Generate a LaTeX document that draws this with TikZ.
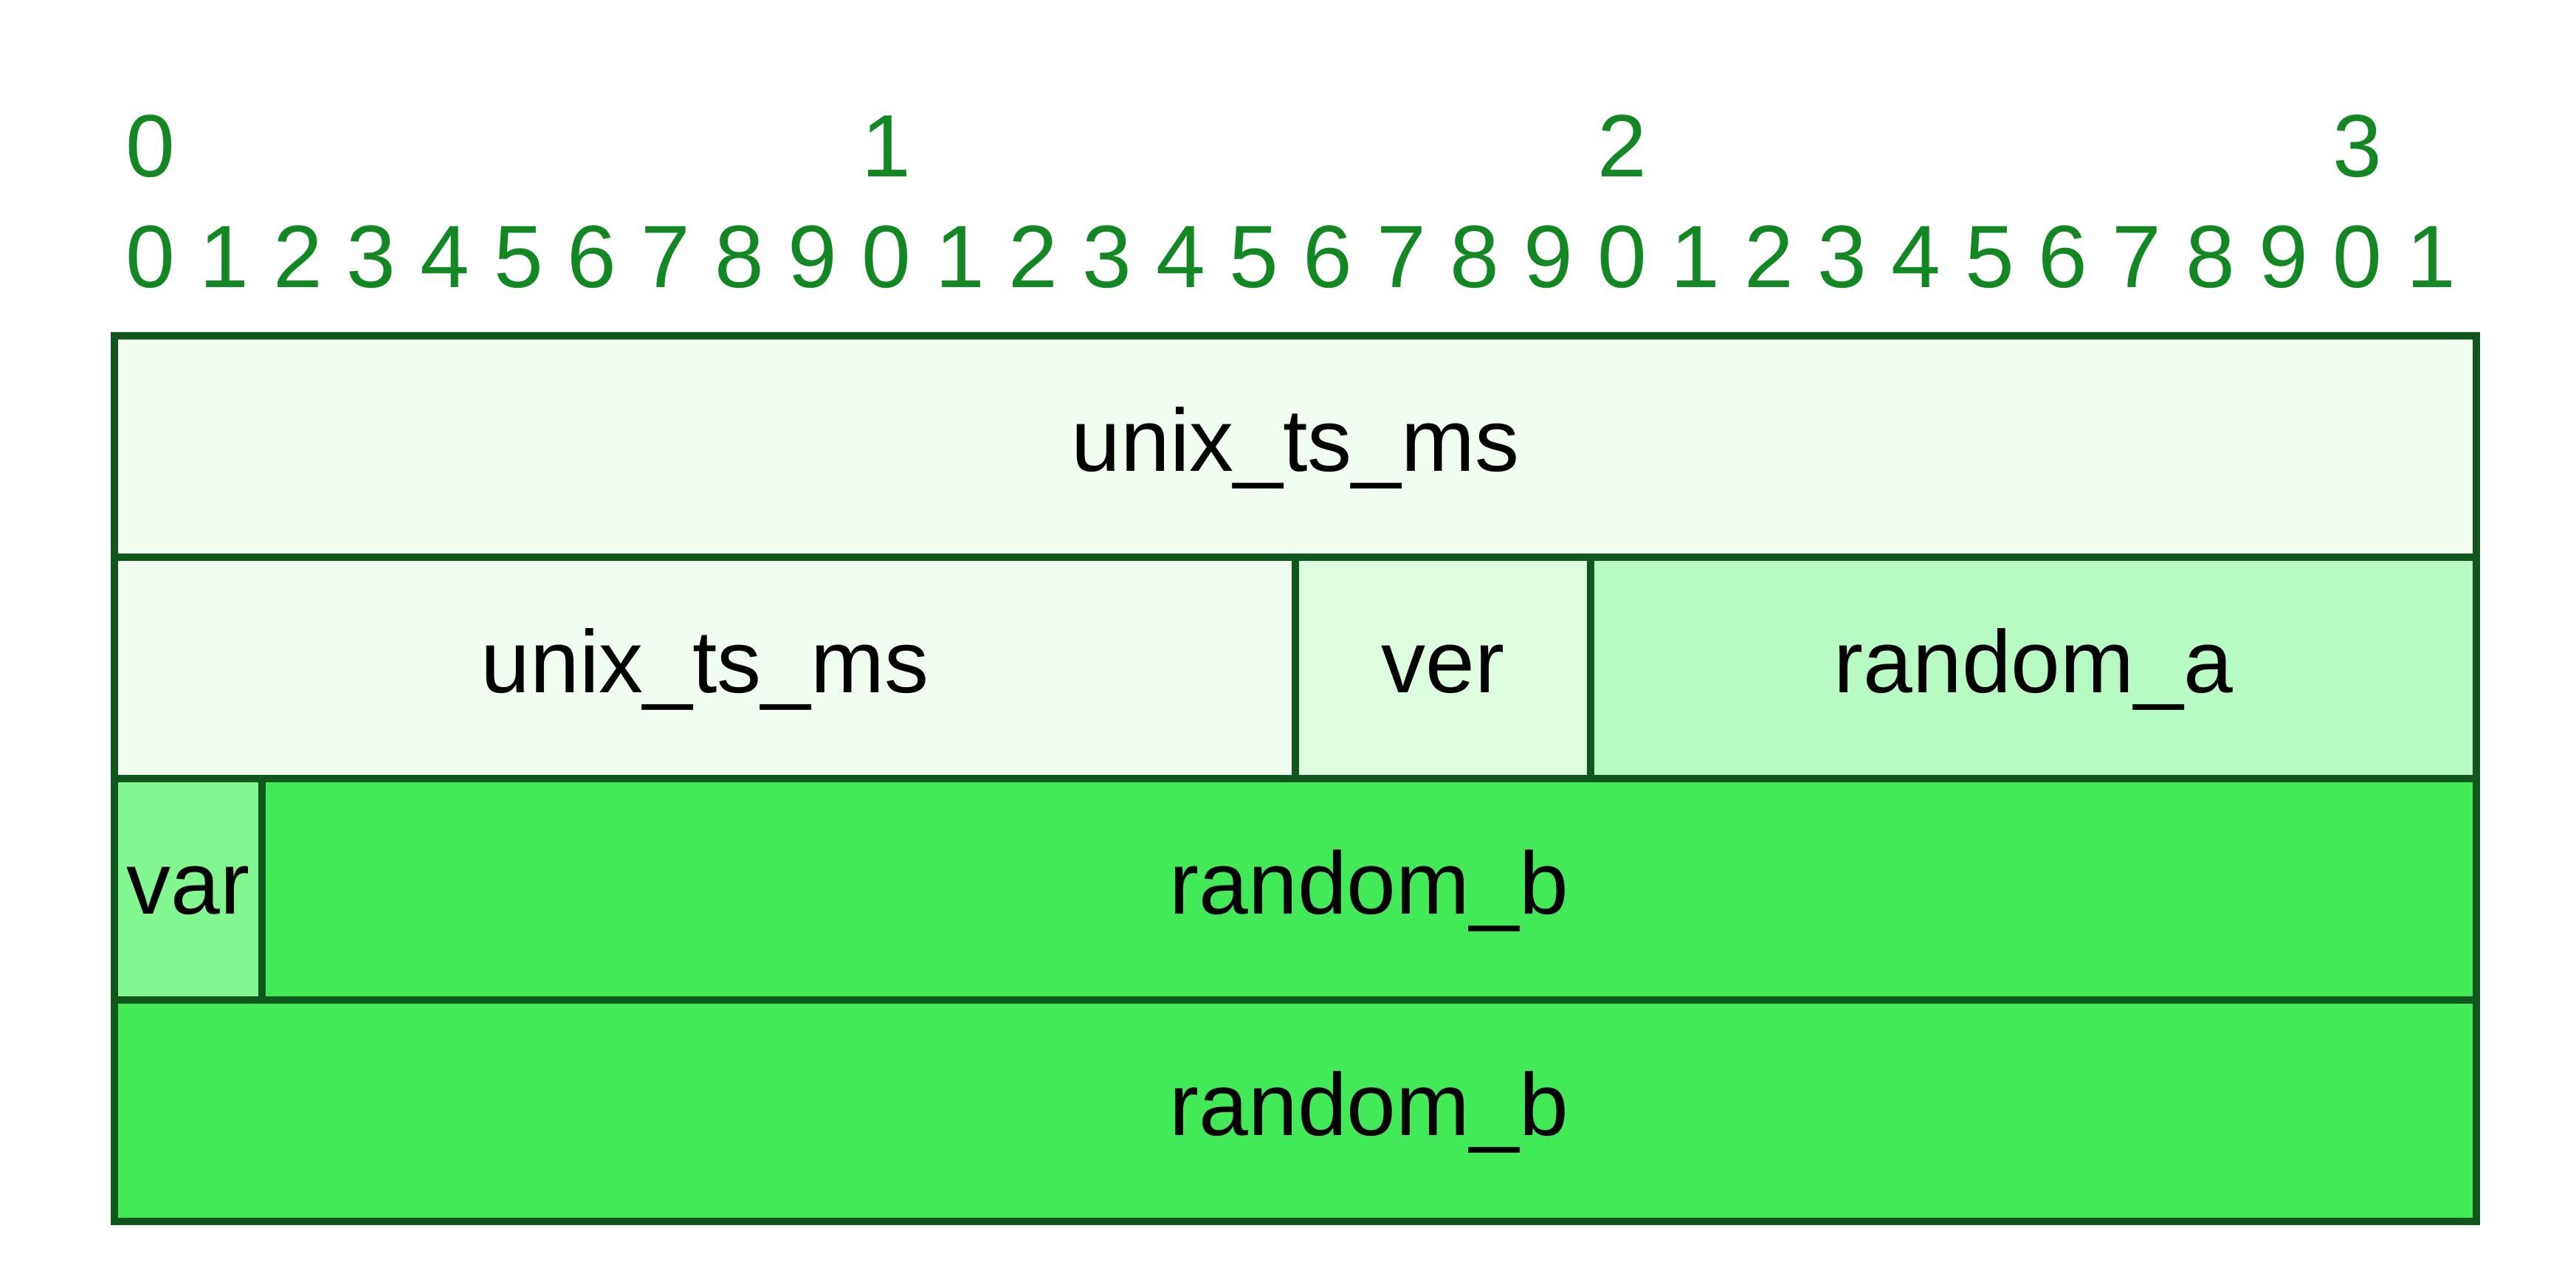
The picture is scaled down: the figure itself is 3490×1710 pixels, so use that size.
\documentclass[tikz,border=0pt]{standalone}
\usepackage{fontspec}
\setmainfont{Liberation Sans}
\definecolor{lineg}{HTML}{0F571D}
\definecolor{digitg}{HTML}{118822}
\definecolor{fillA}{HTML}{F0FDF0}
\definecolor{fillVer}{HTML}{DCFEDF}
\definecolor{fillRA}{HTML}{B7FBC2}
\definecolor{fillVar}{HTML}{83F78F}
\definecolor{fillRB}{HTML}{42EA58}
\begin{document}
\begin{tikzpicture}[x=0.1pt,y=-0.1pt,
  field/.style={draw=lineg, line width=1pt, inner sep=0pt, minimum height=30pt,
    text height=8.4pt, text depth=1.6pt, text=black,
    font=\fontsize{12pt}{14pt}\selectfont},
  bitnum/.style={anchor=base west, inner sep=0pt, text=digitg,
    font=\fontsize{12pt}{14pt}\selectfont}]
\useasboundingbox (0,0) rectangle (3490,1710);
% bit numbers, tens
\node[bitnum] (t0) at (169,240) {0};
\node[bitnum] (t1) at ({169+99.65*10},240) {1};
\node[bitnum] (t2) at ({169+99.65*20},240) {2};
\node[bitnum] (t3) at ({169+99.65*30},240) {3};
% bit numbers, units
\foreach \i in {0,...,31}{
  \pgfmathtruncatemacro{\d}{mod(\i,10)}
  \node[bitnum] (u\i) at ({169+99.65*\i},390) {\d};
}
% fields
\node[field, fill=fillA, minimum width=320pt] (unixA) at (1755,605) {unix\_ts\_ms};
\node[field, fill=fillA, minimum width=160pt] (unixB) at (955,905) {unix\_ts\_ms};
\node[field, fill=fillVer, minimum width=40pt] (ver) at (1955,905) {ver};
\node[field, fill=fillRA, minimum width=120pt] (randa) at (2755,905) {random\_a};
\node[field, fill=fillVar, minimum width=20pt] (var) at (255,1205) {var};
\node[field, fill=fillRB, minimum width=300pt] (randbA) at (1855,1205) {random\_b};
\node[field, fill=fillRB, minimum width=320pt] (randbB) at (1755,1505) {\hspace*{20pt}random\_b};
\end{tikzpicture}
\end{document}
